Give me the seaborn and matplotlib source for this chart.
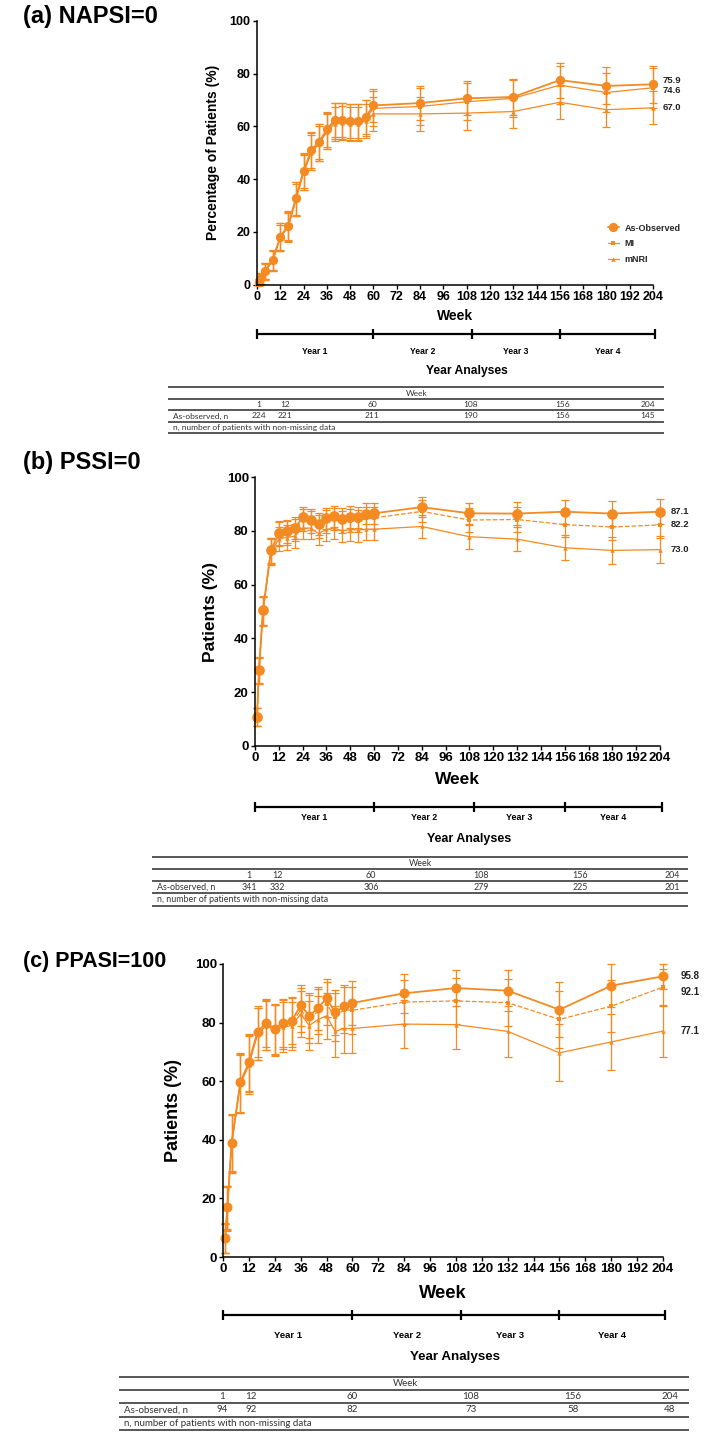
import matplotlib
matplotlib.use("Agg")
import matplotlib.pyplot as plt
from matplotlib.lines import Line2D
import seaborn as sns

# ---------------- data ----------------
weeks = [1, 2, 4, 8, 12, 16, 20, 24, 28, 32, 36, 40, 44, 48, 52, 56, 60, 84, 108, 132, 156, 180, 204]

# (a) NAPSI=0
a_ao = [1.0, 2.4, 5.3, 9.2, 18.2, 22.3, 32.7, 43.2, 51.0, 54.2, 58.8, 62.5, 62.5, 62.1, 62.1, 63.5, 67.9, 68.8, 70.6, 71.1, 77.5, 75.3, 75.9]
a_mi = [0.9, 2.3, 5.0, 9.0, 18.0, 22.0, 32.4, 42.8, 50.5, 53.8, 58.3, 62.0, 62.0, 61.6, 61.6, 63.0, 66.8, 67.5, 69.3, 70.6, 75.6, 72.8, 74.6]
a_mnri = [0.9, 2.2, 4.9, 8.9, 17.8, 21.9, 32.0, 42.5, 50.0, 53.5, 58.0, 61.0, 61.2, 61.0, 61.0, 62.0, 64.7, 64.7, 65.0, 65.6, 69.1, 66.3, 67.0]
a_ao_err = [1.3, 2.0, 3.0, 3.8, 5.1, 5.5, 6.2, 6.6, 6.7, 6.7, 6.6, 6.5, 6.5, 6.5, 6.5, 6.5, 6.4, 6.5, 6.5, 6.8, 6.6, 7.0, 7.0]
a_mi_err = [1.4, 2.1, 3.1, 3.9, 5.3, 5.7, 6.4, 6.8, 6.9, 6.9, 6.8, 6.8, 6.8, 6.8, 6.8, 6.8, 6.7, 6.9, 7.0, 7.0, 7.2, 7.4, 7.5]
a_mnri_err = [1.2, 1.9, 2.9, 3.7, 5.0, 5.4, 6.1, 6.5, 6.6, 6.6, 6.5, 6.4, 6.4, 6.4, 6.4, 6.4, 6.3, 6.3, 6.4, 6.4, 6.3, 6.4, 6.3]

# (b) PSSI=0
b_ao = [10.9, 28.2, 50.4, 72.7, 79.2, 79.8, 81.0, 85.0, 84.1, 82.6, 84.6, 85.4, 84.4, 85.1, 85.0, 86.4, 86.5, 88.8, 86.5, 86.4, 87.1, 86.4, 87.1]
b_mi = [10.8, 28.0, 50.2, 72.5, 78.8, 79.2, 80.3, 84.0, 83.2, 81.5, 83.5, 84.3, 83.2, 83.8, 83.6, 84.8, 84.8, 87.2, 84.0, 84.2, 82.3, 81.4, 82.2]
b_mnri = [10.7, 27.8, 50.0, 72.0, 77.0, 77.5, 78.0, 81.0, 81.0, 79.0, 80.5, 81.0, 80.0, 80.5, 80.3, 80.6, 80.6, 81.6, 77.8, 76.9, 73.7, 72.7, 73.0]
b_ao_err = [3.3, 4.8, 5.3, 4.7, 4.3, 4.2, 4.1, 3.8, 3.9, 4.2, 4.0, 3.9, 4.0, 4.0, 4.0, 3.9, 4.0, 3.8, 4.0, 4.4, 4.4, 4.7, 4.7]
b_mi_err = [3.3, 4.8, 5.3, 4.8, 4.4, 4.3, 4.2, 4.0, 4.1, 4.3, 4.2, 4.1, 4.2, 4.2, 4.2, 4.1, 4.2, 4.1, 4.4, 4.5, 4.6, 4.9, 5.0]
b_mnri_err = [3.3, 4.8, 5.3, 4.8, 4.5, 4.5, 4.4, 4.2, 4.2, 4.4, 4.3, 4.2, 4.3, 4.3, 4.3, 4.2, 4.2, 4.1, 4.4, 4.5, 4.7, 4.9, 4.9]

# (c) PPASI=100
c_ao = [6.5, 16.9, 39.0, 59.6, 66.4, 76.9, 80.0, 77.8, 80.0, 80.7, 85.9, 82.4, 84.9, 88.3, 83.5, 85.5, 86.7, 90.0, 91.8, 90.9, 84.4, 92.6, 95.8]
c_mi = [6.4, 16.7, 38.7, 59.3, 66.0, 76.2, 79.2, 77.4, 79.3, 80.0, 84.2, 81.2, 83.8, 86.5, 81.8, 84.4, 84.2, 87.0, 87.4, 86.8, 81.1, 85.6, 92.1]
c_mnri = [6.4, 16.5, 38.5, 59.0, 65.5, 76.0, 79.0, 77.5, 78.5, 79.0, 83.0, 79.0, 81.0, 82.3, 77.0, 78.0, 78.0, 79.5, 79.3, 77.0, 69.7, 73.4, 77.1]
c_ao_err = [5.0, 7.5, 9.8, 10.0, 9.8, 8.7, 8.2, 8.6, 8.2, 8.0, 7.1, 7.8, 7.3, 6.5, 7.7, 7.5, 7.4, 6.7, 6.3, 7.0, 9.4, 7.4, 4.2]
c_mi_err = [5.0, 7.5, 9.8, 10.0, 9.8, 8.9, 8.4, 8.7, 8.4, 8.3, 7.5, 8.1, 7.7, 7.2, 8.2, 7.9, 8.0, 7.6, 7.8, 8.1, 9.7, 8.8, 6.2]
c_mnri_err = [5.0, 7.5, 9.8, 10.0, 9.8, 8.9, 8.3, 8.6, 8.4, 8.2, 7.8, 8.4, 8.0, 7.8, 8.6, 8.5, 8.4, 8.3, 8.3, 8.6, 9.8, 9.6, 8.7]

series_names = ["As-Observed", "MI", "mNRI"]
panel_titles = ["(a) NAPSI=0", "(b) PSSI=0", "(c) PPASI=100"]
y_labels = ["Percentage of Patients (%)", "Patients (%)", "Patients (%)"]
year_labels = ["Year 1", "Year 2", "Year 3", "Year 4"]
year_bounds = [0, 60, 110.5, 156, 204]
x_ticks = list(range(0, 205, 12))
y_ticks = list(range(0, 101, 20))

table_weeks = [1, 12, 60, 108, 156, 204]
a_n = [224, 221, 211, 190, 156, 145]
b_n = [341, 332, 306, 279, 225, 201]
c_n = [94, 92, 82, 73, 58, 48]

ORANGE = "#F38A22"

# ---------------- figure ----------------
sns.set_theme(style="ticks")
plt.rcParams["font.family"] = ["Liberation Sans", "DejaVu Sans"]
W, H = 709, 1437
fig = plt.figure(figsize=(W / 100, H / 100), dpi=100)
fig.patch.set_facecolor("white")

ov = fig.add_axes([0, 0, 1, 1])
ov.set_xlim(0, W)
ov.set_ylim(H, 0)
ov.axis("off")


def add_ax(l, t, r, b):
    return fig.add_axes([l / W, 1 - b / H, (r - l) / W, (b - t) / H])


panels = [
    dict(data=[(a_ao, a_ao_err), (a_mi, a_mi_err), (a_mnri, a_mnri_err)], n=a_n,
         box=(257, 20.7, 653, 284.7), title_y=16, title_fs=17, tick_fs=9, ylab_fs=10, ylab_dx=37,
         week_fs=10, week_y=316, bar_y=334, yl_y=352, yl_fs=6.2, ya_y=371, ya_fs=8.7,
         lbl_dx=10, lbl_off=[-4, 3, 0], lbl_fs=6.8, dashed=False,
         ms=6.7, cap=3.0,
         tab=(168, 664), tab_lines=[387, 399, 410, 422, 433], tab_cols=[259, 285, 372, 471, 563, 648],
         tab_fs=6.0, tab_head_x=417, legend=True),
    dict(data=[(b_ao, b_ao_err), (b_mi, b_mi_err), (b_mnri, b_mnri_err)], n=b_n,
         box=(255, 477, 660, 746), title_y=462, title_fs=17, tick_fs=9.5, ylab_fs=12.5, ylab_dx=37,
         week_fs=12.5, week_y=779, bar_y=807, yl_y=818, yl_fs=6.4, ya_y=839, ya_fs=9,
         lbl_dx=11, lbl_off=[0, 0, 0], lbl_fs=6.8, dashed=True,
         ms=7.7, cap=3.0,
         tab=(152, 688), tab_lines=[857, 869, 881, 893, 906], tab_cols=[249, 277, 371, 481, 580, 672],
         tab_fs=6.4, tab_head_x=420, legend=False),
    dict(data=[(c_ao, c_ao_err), (c_mi, c_mi_err), (c_mnri, c_mnri_err)], n=c_n,
         box=(223, 964, 663, 1257), title_y=962, title_fs=15.5, tick_fs=9.5, ylab_fs=13, ylab_dx=41,
         week_fs=13.2, week_y=1293, bar_y=1315, yl_y=1335, yl_fs=6.8, ya_y=1357, ya_fs=9.6,
         lbl_dx=18, lbl_off=[0, 5, 0], lbl_fs=7.0, dashed=True,
         ms=7.2, cap=3.2,
         tab=(119, 689), tab_lines=[1377, 1390, 1403, 1417, 1430], tab_cols=[222, 251, 352, 471, 573, 670],
         tab_fs=7.0, tab_head_x=405, legend=False),
]

for i, p in enumerate(panels):
    l, t, r, b = p["box"]
    ax = add_ax(l, t, r, b)
    ax.set_facecolor("none")
    styles = [
        dict(marker="o", markersize=p["ms"], linewidth=1.3, linestyle="-"),
        dict(marker="s", markersize=3.0, linewidth=0.9, linestyle="--" if p["dashed"] else "-"),
        dict(marker="^", markersize=3.2, linewidth=0.9, linestyle="-"),
    ]
    for (vals, err), st in zip(p["data"], styles):
        eb = ax.errorbar(weeks, vals, yerr=err, fmt="none", ecolor=ORANGE, elinewidth=0.9,
                         capsize=p["cap"], capthick=0.9)
        for art in eb.get_children():
            art.set_clip_on(False)
        sns.lineplot(x=weeks, y=vals, ax=ax, color=ORANGE, markeredgewidth=0,
                     errorbar=None, legend=False, **st)
        ax.lines[-1].set_clip_on(False)

    ax.set_xlim(0, 204)
    ax.set_ylim(0, 100)
    ax.set_xticks(x_ticks)
    ax.set_yticks(y_ticks)
    ax.tick_params(axis="both", labelsize=p["tick_fs"], length=3, width=1, pad=1.5, colors="black")
    for lab in ax.get_xticklabels() + ax.get_yticklabels():
        lab.set_fontweight("bold")
    for s in ["top", "right"]:
        ax.spines[s].set_visible(False)
    for s in ["left", "bottom"]:
        ax.spines[s].set_color("black")
        ax.spines[s].set_linewidth(1.1)
    ax.set_xlabel("")
    ax.set_ylabel(y_labels[i], fontsize=p["ylab_fs"], fontweight="bold", color="black")
    ax.yaxis.set_label_coords(-p["ylab_dx"] / (r - l), 0.5)

    # end-value labels
    for (vals, err), off in zip(p["data"], p["lbl_off"]):
        yv = b - vals[-1] / 100 * (b - t) + off
        ov.text(r + p["lbl_dx"], yv, f"{vals[-1]:.1f}", ha="left", va="center",
                fontsize=p["lbl_fs"], fontweight="bold", color="#222222")

    # legend
    if p["legend"]:
        handles = [Line2D([0], [0], color=ORANGE, mec=ORANGE, mew=0, **st) for st in styles]
        handles[1].set_linestyle("-")
        ax.legend(handles, series_names, loc="upper left",
                  bbox_to_anchor=((604 - l) / (r - l), (b - 220) / (b - t)),
                  frameon=False, handlelength=1.3, handletextpad=0.6,
                  labelspacing=0.75, borderaxespad=0,
                  prop=dict(weight="bold", size=6.5))

    # panel title
    ov.text(23, p["title_y"], panel_titles[i], ha="left", va="center",
            fontsize=p["title_fs"], fontweight="bold", color="black")

    # Week title
    cx = (l + r) / 2
    ov.text(cx, p["week_y"], "Week", ha="center", va="center", fontsize=p["week_fs"],
            fontweight="bold", color="black")

    # year bar
    bx = [l + wk / 204 * (r - l) for wk in year_bounds]
    bx[-1] += 2
    yb = p["bar_y"]
    ov.plot([bx[0], bx[-1]], [yb, yb], color="black", lw=1.6, solid_capstyle="butt")
    for xv in bx:
        ov.plot([xv, xv], [yb - 5, yb + 5], color="black", lw=1.6, solid_capstyle="butt")
    for k, lab in enumerate(year_labels):
        ov.text((bx[k] + bx[k + 1]) / 2, p["yl_y"], lab, ha="center", va="center",
                fontsize=p["yl_fs"], fontweight="bold", color="black")
    ov.text(cx + 12, p["ya_y"], "Year Analyses", ha="center", va="center",
            fontsize=p["ya_fs"], fontweight="bold", color="black")

    # table
    tl, tr = p["tab"]
    ly = p["tab_lines"]
    for yy in ly:
        ov.plot([tl, tr], [yy, yy], color="#4a4a4a", lw=1.3, solid_capstyle="butt")
    tf = dict(fontsize=p["tab_fs"], family=["Lato", "DejaVu Sans"], color="#333333", va="center")
    r1 = (ly[0] + ly[1]) / 2
    r2 = (ly[1] + ly[2]) / 2
    r3 = (ly[2] + ly[3]) / 2
    r4 = (ly[3] + ly[4]) / 2
    ov.text(p["tab_head_x"], r1, "Week", ha="center", **tf)
    for xc, wk, nn in zip(p["tab_cols"], table_weeks, p["n"]):
        ov.text(xc, r2, str(wk), ha="center", **tf)
        ov.text(xc, r3, str(nn), ha="center", **tf)
    ov.text(tl + 5, r3, "As-observed, n", ha="left", **tf)
    ov.text(tl + 5, r4, "n, number of patients with non-missing data", ha="left", **tf)

fig.savefig("out.png", dpi=100, facecolor="white")
